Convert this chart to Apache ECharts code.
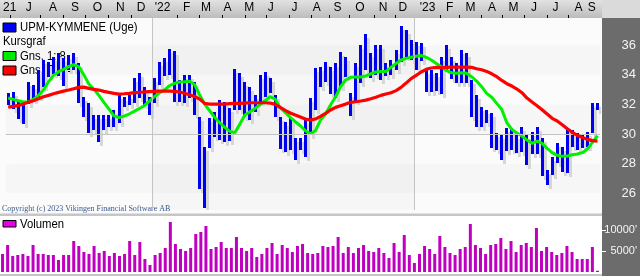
<!DOCTYPE html>
<html><head><meta charset="utf-8">
<script src="https://cdn.jsdelivr.net/npm/echarts@6/dist/echarts.min.js"></script>
<style>html,body{margin:0;padding:0;background:#fff;overflow:hidden}#c{width:640px;height:276px}</style>
</head><body><div id="c"></div>
<script>
// ---- data ----
const startWeek = '2021-06-14';
const weekCount = 118;
const high = [32.75,32.86,32.18,32.18,33.53,33.31,34.32,35.0,34.88,35.22,
35.45,35.11,35.33,35.45,34.77,32.52,32.07,31.28,31.28,31.28,
31.28,31.62,32.63,32.52,32.63,33.76,34.1,33.2,32.52,33.76,
34.88,35.11,35.72,35.63,33.65,33.98,33.98,33.53,31.17,29.14,
31.06,31.51,32.3,32.18,31.73,34.37,34.1,33.53,33.2,32.63,
33.98,34.21,33.76,32.63,31.17,30.83,31.06,29.7,29.7,30.94,
32.41,34.43,34.55,34.88,34.55,34.77,35.56,35.22,32.75,34.77,
36.01,36.75,35.45,36.01,36.01,34.77,35.0,35.67,37.29,37.02,
36.35,36.24,36.12,34.32,34.32,34.1,35.22,36.01,35.22,34.77,
35.67,35.45,33.65,32.63,31.84,31.62,31.39,30.04,29.93,30.38,
30.38,29.93,30.49,29.93,30.15,30.49,29.7,27.57,28.47,29.37,
29.14,30.38,30.27,30.04,29.93,30.15,32.07,32.07];
const low = [31.96,31.73,31.06,30.72,32.07,32.3,32.52,33.2,33.87,34.1,
33.87,33.2,34.32,34.32,32.07,31.17,30.04,30.27,29.48,30.27,
30.5,30.5,30.72,31.84,31.96,32.07,32.41,31.96,31.28,32.07,
33.31,33.87,33.98,32.18,32.18,32.07,32.41,31.28,26.33,25.0,
29.03,29.82,29.59,29.48,29.48,31.62,31.62,31.17,30.94,31.51,
32.18,32.52,32.75,31.17,29.03,28.8,28.92,28.24,28.92,28.47,
29.93,31.62,33.2,33.53,32.75,32.41,33.2,33.87,31.17,32.18,
33.42,34.32,33.76,33.98,33.65,33.87,33.98,34.32,34.88,35.22,
35.0,34.32,34.88,32.86,32.86,32.86,32.75,34.32,33.76,33.42,
33.42,33.42,31.17,30.49,30.49,30.72,29.03,28.92,28.24,28.8,
28.92,28.69,28.8,27.9,28.69,28.69,27.11,26.55,27.23,28.02,
27.45,27.34,29.14,28.92,29.03,29.14,30.04,31.62];
const ma8 = [32.43,32.34,32.25,32.16,32.16,32.34,32.61,32.97,33.53,33.96,
34.21,34.37,34.55,34.68,34.55,34.01,33.38,33.04,32.61,32.14,
31.69,31.21,31.12,31.21,31.35,31.53,31.71,31.91,32.2,32.52,
32.77,32.97,33.26,33.42,33.51,33.53,33.56,33.35,32.65,32.02,
31.57,31.12,30.76,30.45,30.18,30.09,30.67,31.28,31.51,31.73,
31.98,32.25,32.52,32.36,31.78,31.46,31.12,30.83,30.56,30.22,
30.02,30.22,30.94,31.33,31.96,32.52,33.2,33.65,33.83,33.85,
33.85,33.92,34.07,34.19,34.23,34.23,34.5,34.77,35.0,35.11,
35.18,35.25,35.31,35.18,35.0,34.77,34.55,34.28,34.14,34.1,
34.14,34.1,33.87,33.58,33.2,32.75,32.48,32.07,31.66,30.76,
30.31,30.07,29.86,29.59,29.37,29.52,29.37,29.03,28.74,28.56,
28.49,28.51,28.6,28.65,28.74,28.98,29.43,29.88];
const ma24 = [31.82,31.87,31.93,32.02,32.14,32.25,32.38,32.52,32.61,32.72,
32.81,32.9,32.97,33.06,33.15,33.17,33.08,33.02,32.97,32.88,
32.81,32.75,32.7,32.72,32.75,32.79,32.81,32.84,32.86,32.88,
32.9,32.9,32.9,32.88,32.84,32.75,32.65,32.54,32.36,32.07,
32.02,32.02,32.02,32.02,32.05,32.07,32.07,32.09,32.11,32.11,
32.11,32.11,32.09,32.0,31.8,31.6,31.42,31.28,31.15,31.01,
30.94,31.01,31.19,31.39,31.62,31.8,31.91,32.02,32.14,32.18,
32.23,32.29,32.38,32.48,32.61,32.7,32.79,32.93,33.15,33.44,
33.74,33.96,34.19,34.37,34.46,34.5,34.48,34.5,34.52,34.52,
34.52,34.52,34.5,34.41,34.34,34.23,34.07,33.87,33.62,33.4,
33.24,33.04,32.79,32.43,32.16,31.91,31.64,31.35,31.06,30.88,
30.63,30.36,30.11,29.91,29.77,29.64,29.55,29.52];
const volume = [4286,6429,3810,4048,4286,3810,6429,4286,4286,4048,
4048,2857,4048,4048,7381,6190,4762,4286,6190,4524,
5000,3810,4524,3810,4286,7381,4048,7143,3095,1667,
4048,4524,5714,11905,6667,5476,5000,5714,9048,9524,
10952,5476,5952,7143,5714,5714,8333,5714,5000,5714,
3571,4286,5714,6905,4286,6429,5714,4762,6190,6667,
4524,4286,4524,6190,5952,6190,8333,4524,5952,4524,
5714,6429,5000,4762,5714,4524,3333,6905,4762,8810,
4048,2143,4286,6190,5476,4286,8571,5952,4524,4048,
5476,5952,11429,6429,5714,4286,6429,6667,8095,5476,
7381,4762,6429,6905,5952,10476,5000,5952,4762,4048,
4524,6190,4762,3095,3095,3095,5952,300];
const priceTicks = [26, 28, 30, 32, 34, 36];
const volumeTicks = [5000, 10000];
const monthLabels = ["21","J","A","S","O","N","D","'22","F","M","A","M","J","J","A","S","O","N","D","'23","F","M","A","M","J","J","A","S"];
const monthLabelPos = [0.29,4.08,8.88,13.27,17.73,22.25,26.38,30.63,35.43,39.28,43.55,47.88,52.15,56.86,61.25,65.38,69.84,74.43,78.36,83.28,87.66,91.79,96.06,100.33,104.38,108.65,113.23,115.86];
const monthTickPos = [0.48,6.38,10.97,15.23,19.82,24.42,33.58,37.85,42.43,47.03,51.28,55.88,60.13,63.75,67.68,72.6,76.85,85.7,89.63,93.89,98.16,102.41,107.01,111.26];
const yearLinePos = [28.51, 80.66];
const shadedBands = [[26, 28], [30, 32], [34, 36]];
const gridLineValues = [30];
const legendNames = ['UPM-KYMMENE (Uge)', 'Kursgraf', 'Gns. 1: 8', 'Gns. 5: 24', 'Volumen'];
const copyright = 'Copyright (c) 2023 Vikingen Financial Software AB';

// ---- build ----
const weeks = [];
{ const d0 = new Date(startWeek + 'T00:00:00Z');
  for (let i = 0; i < weekCount; i++) { const d = new Date(d0.getTime() + i * 7 * 86400000); weeks.push(d.toISOString().slice(0, 10)); } }
const barData = high.map((h, i) => [i, h, low[i]]);
const SANS = "'Liberation Sans',Arial,sans-serif";

function labelFor(v) {
  let best = 0, bd = 1e9;
  monthLabelPos.forEach((p, k) => { const d = Math.abs(p - v); if (d < bd) { bd = d; best = k; } });
  return monthLabels[best];
}
function renderBars(shadow) {
  return function (params, api) {
    const i = api.value(0);
    const t = api.coord([i, api.value(1)]);
    const b = api.coord([i, api.value(2)]);
    const x = Math.round(t[0] - 1.5);
    const y = Math.round(t[1]);
    const h = Math.max(1, Math.round(b[1] - t[1]));
    if (shadow) return { type: 'rect', shape: { x: x + 3, y: y + 4, width: 3, height: h }, style: { fill: '#d6d6d6' } };
    return { type: 'rect', shape: { x: x, y: y, width: 3, height: h }, style: { fill: '#0000f0' } };
  };
}
function legendText(text, x, y) {
  return { type: 'text', z: 1, x: x, y: y, scaleX: 0.87, style: { text: text, font: '13px ' + SANS, fill: '#000', verticalAlign: 'middle' } };
}

const chart = echarts.init(document.getElementById('c'), null, { renderer: 'canvas' });
const option = {
  animation: false,
  backgroundColor: '#ffffff',
  grid: [
    { left: 0, top: 18, width: 600, height: 192 },
    { left: 0, top: 216, width: 600, height: 56 }
  ],
  xAxis: [
    { gridIndex: 0, type: 'value', position: 'top', min: -0.5, max: 117.5,
      axisLine: { show: false }, splitLine: { show: false },
      axisTick: { show: true, customValues: monthTickPos, length: 3, inside: false, lineStyle: { color: '#000', width: 1 } },
      axisLabel: { customValues: monthLabelPos, formatter: (v) => labelFor(v), color: '#000', fontSize: 12, fontFamily: SANS, margin: 4 } },
    { gridIndex: 1, type: 'category', data: weeks, show: false, boundaryGap: true }
  ],
  yAxis: [
    { gridIndex: 0, type: 'value', position: 'right', offset: 2, min: 24.865, max: 37.838,
      axisLine: { show: false }, splitLine: { show: false },
      axisTick: { show: true, customValues: priceTicks, length: 4, lineStyle: { color: '#ffffff' } },
      axisLabel: { customValues: priceTicks, align: 'right', margin: 34, color: '#f4f4f4', fontSize: 13, fontFamily: SANS } },
    { gridIndex: 1, type: 'value', position: 'right', offset: 2, min: 0, max: 13333,
      axisLine: { show: false }, splitLine: { show: false },
      axisTick: { show: true, customValues: volumeTicks, length: 4, lineStyle: { color: '#ffffff' } },
      axisLabel: { customValues: volumeTicks, formatter: (v) => v + "'", align: 'right', margin: 35, color: '#f4f4f4', fontSize: 11, fontFamily: SANS } }
  ],
  series: [
    { name: 'bg', type: 'line', xAxisIndex: 0, yAxisIndex: 0, z: 1, silent: true,
      data: ma24.map((v, i) => [i, v]), symbol: 'none', lineStyle: { opacity: 0 },
      markArea: { silent: true, itemStyle: { color: 'rgba(0,0,0,0.02)' },
        data: shadedBands.map(b => [{ yAxis: b[0] }, { yAxis: b[1] }])
          .concat([[{ xAxis: yearLinePos[0] }, { xAxis: yearLinePos[1] }]]) },
      markLine: { silent: true, symbol: 'none', label: { show: false },
        lineStyle: { color: '#c4c4c4', width: 1, type: 'solid' },
        data: gridLineValues.map(v => ({ yAxis: v })).concat(yearLinePos.map(v => ({ xAxis: v }))) } },
    { name: 'shadow', type: 'custom', xAxisIndex: 0, yAxisIndex: 0, z: 2, silent: true,
      renderItem: renderBars(true), data: barData, clip: true },
    { name: legendNames[0], type: 'custom', xAxisIndex: 0, yAxisIndex: 0, z: 3, silent: true,
      renderItem: renderBars(false), data: barData, clip: true },
    { name: legendNames[2], type: 'line', xAxisIndex: 0, yAxisIndex: 0, z: 4, silent: true,
      data: ma8.map((v, i) => [i, v]), symbol: 'none', lineStyle: { color: '#00f000', width: 3 } },
    { name: legendNames[3], type: 'line', xAxisIndex: 0, yAxisIndex: 0, z: 5, silent: true,
      data: ma24.map((v, i) => [i, v]), symbol: 'none', lineStyle: { color: '#ff0000', width: 3.2 } },
    { name: legendNames[4], type: 'bar', xAxisIndex: 1, yAxisIndex: 1, z: 3, silent: true,
      data: volume, barWidth: 3, itemStyle: { color: '#c000c0' } }
  ],
  graphic: [
    { type: 'rect', z: -10, shape: { x: 0, y: 18, width: 602, height: 196 }, style: { fill: '#fbfbfb' } },
    { type: 'rect', z: -10, shape: { x: 0, y: 0, width: 602, height: 18 },
      style: { fill: new echarts.graphic.LinearGradient(0, 0, 0, 1, [{ offset: 0, color: '#e2e2e2' }, { offset: 1, color: '#bcbcbc' }]) } },
    { type: 'rect', z: -10, shape: { x: 602, y: 0, width: 38, height: 18 }, style: { fill: '#dadada' } },
    { type: 'rect', z: -10, shape: { x: 602, y: 18, width: 38, height: 258 }, style: { fill: '#6c6c6c' } },
    { type: 'rect', z: -10, shape: { x: 0, y: 213.5, width: 602, height: 2.5 }, style: { fill: '#c6c6c6' } },
    { type: 'rect', z: -10, shape: { x: 0, y: 216, width: 602, height: 58 }, style: { fill: '#ffffff' } },
    { type: 'rect', z: -10, shape: { x: 0, y: 274, width: 602, height: 2 }, style: { fill: '#c6c6c6' } },
    { type: 'rect', z: 1, shape: { x: 3, y: 23, width: 13, height: 9 }, style: { fill: '#0000f0', stroke: '#000', lineWidth: 1 } },
    legendText(legendNames[0], 20, 27.5),
    legendText(legendNames[1], 3, 41.5),
    { type: 'rect', z: 1, shape: { x: 3, y: 51.5, width: 13, height: 9 }, style: { fill: '#00f000', stroke: '#000', lineWidth: 1 } },
    legendText(legendNames[2], 20, 56),
    { type: 'rect', z: 1, shape: { x: 3, y: 66, width: 13, height: 9 }, style: { fill: '#ff0000', stroke: '#000', lineWidth: 1 } },
    legendText(legendNames[3], 20, 70.5),
    { type: 'text', z: 1, x: 2, y: 209, style: { text: copyright, font: '8px "Liberation Serif", serif', fill: '#3a5a8a', verticalAlign: 'middle' } },
    { type: 'rect', z: 1, shape: { x: 3, y: 220.5, width: 13, height: 6.5 }, style: { fill: '#e600e6', stroke: '#000', lineWidth: 1 } },
    legendText(legendNames[4], 20, 224)
  ]
};
chart.setOption(option);
</script></body></html>
